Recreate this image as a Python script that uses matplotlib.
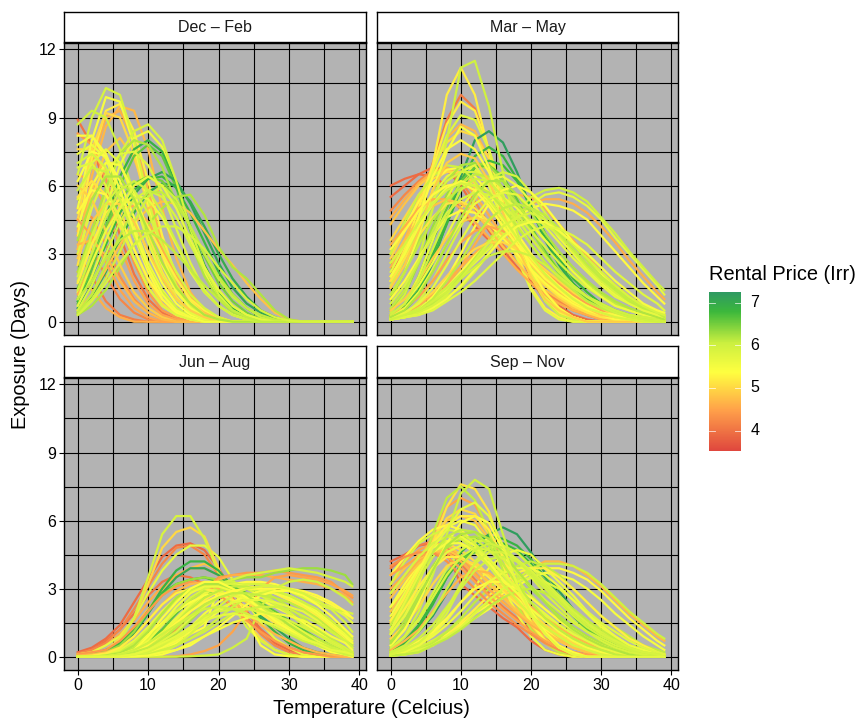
import matplotlib
matplotlib.use('Agg')
import matplotlib.pyplot as plt
from matplotlib.colors import LinearSegmentedColormap, Normalize
import numpy as np

plt.rcParams['font.family'] = ['Liberation Sans', 'DejaVu Sans']

# temperatures the curves were read at, a curve that stops early is zero after that
temps = list(range(0, 39, 2)) + [39]

dec_feb_prices = [4.0, 4.4, 4.3, 4.2, 4.5, 4.1, 4.6, 4.7, 4.8, 4.6, 5.0, 5.2, 5.0, 5.1, 5.3, 5.6, 5.5, 5.9, 6.0,
                  5.6, 6.9, 6.6, 7.1, 6.8, 7.0, 4.8, 4.6, 5.9, 6.2, 6.5, 5.8, 5.4, 6.2, 5.7, 5.5, 5.9, 6.0,
                  4.5, 4.9, 4.7, 5.1, 5.3, 4.9, 5.2, 5.6, 5.9, 6.1, 5.8, 6.0, 5.9, 5.5, 6.2, 6.0, 5.7, 6.1, 5.9, 6.0]
dec_feb_curves = [
    [8.9, 7.8, 5.9, 3.8, 2.1, 1.0, .4, .1],
    [8.3, 7.8, 6.3, 4.4, 2.6, 1.3, .5, .2],
    [5.0, 4.6, 3.4, 2.0, 1.0, .4, .1],
    [3.8, 3.2, 2.0, 1.0, .4, .1],
    [6.5, 6.2, 5.0, 3.3, 1.8, .8, .3, .1],
    [3.0, 2.0, .9, .3, .1],
    [2.2, 1.4, .6, .2],
    [3.2, 6.4, 8.6, 9.5, 9.3, 7.6, 5.0, 2.8, 1.3, .5, .1],
    [3.2, 5.8, 7.5, 8.1, 7.2, 5.5, 3.6, 2.0, 1.0, .4, .1],
    [4.0, 7.0, 9.0, 9.3, 8.0, 5.8, 3.4, 1.7, .7, .2],
    [7.6, 7.6, 6.6, 5.0, 3.2, 1.8, .8, .3, .1],
    [3.8, 7.2, 9.3, 9.6, 8.4, 6.2, 3.8, 2.0, .9, .3],
    [4.5, 7.6, 9.2, 9.0, 7.4, 5.0, 2.9, 1.4, .6, .2],
    [2.5, 5.5, 7.0, 7.0, 5.6, 3.8, 2.2, 1.1, .4, .1],
    [8.2, 8.2, 7.2, 5.6, 3.8, 2.2, 1.0, .4, .1],
    [7.4, 7.8, 7.2, 5.8, 4.2, 2.6, 1.4, .6, .2, .1],
    [5.0, 8.0, 9.9, 9.7, 7.8, 5.2, 3.0, 1.4, .6, .2],
    [6.5, 9.0, 10.3, 10.0, 8.0, 5.4, 3.2, 1.6, .7, .2],
    [8.7, 9.3, 9.0, 7.6, 5.6, 3.6, 2.0, 1.0, .4, .1],
    [1.3, 3.0, 5.0, 6.9, 8.1, 8.4, 7.7, 6.0, 4.0, 2.2, 1.1, .5, .2],
    [1.0, 2.6, 4.6, 6.4, 7.6, 8.0, 7.5, 6.0, 4.2, 2.5, 1.3, .6, .2],
    [.8, 2.3, 4.2, 6.0, 7.3, 7.8, 7.3, 5.9, 4.0, 2.4, 1.2, .5, .2],
    [.6, 1.6, 3.0, 4.4, 5.6, 6.3, 6.6, 6.2, 5.2, 3.9, 2.6, 1.5, .8, .4, .1],
    [.9, 2.0, 3.4, 4.8, 5.8, 6.3, 6.4, 5.9, 4.8, 3.5, 2.2, 1.2, .6, .2, .1],
    [.4, 1.1, 2.2, 3.6, 4.8, 5.7, 6.1, 6.0, 5.3, 4.2, 3.0, 1.9, 1.1, .5, .2],
    [.5, 1.2, 2.3, 3.4, 4.3, 5.0, 5.3, 5.2, 4.8, 4.0, 3.2, 2.5, 1.7, 1.0, .4, .1],
    [1.2, 2.6, 4.2, 5.0, 5.1, 4.4, 3.2, 2.0, 1.1, .5, .2],
    [1.8, 3.6, 5.6, 7.4, 8.4, 8.7, 8.0, 6.2, 4.1, 2.4, 1.2, .5, .2],
    [2.2, 4.0, 5.9, 7.4, 8.0, 7.8, 6.8, 5.2, 3.5, 2.0, 1.0, .4, .1],
    [1.5, 2.8, 4.2, 5.4, 6.1, 6.4, 6.2, 5.4, 4.2, 2.9, 1.7, .9, .4, .1],
    [3.0, 5.0, 6.5, 7.4, 7.5, 6.9, 5.7, 4.1, 2.6, 1.4, .7, .3, .1],
    [6.2, 7.5, 7.3, 6.2, 4.6, 3.0, 1.7, .8, .3, .1],
    [.3, .7, 1.4, 2.4, 3.4, 4.3, 5.0, 5.5, 5.6, 4.7, 3.3, 2.4, 1.9, 1.2, .5, .1],
    [5.4, 7.0, 7.6, 7.0, 5.4, 3.5, 2.0, 1.0, .4, .1],
    [4.2, 6.0, 7.0, 6.9, 5.7, 4.0, 2.5, 1.3, .6, .2],
    [7.0, 7.4, 6.8, 5.4, 3.8, 2.4, 1.3, .6, .2],
    [.4, 1.0, 1.9, 3.1, 4.4, 5.5, 6.0, 5.4, 4.2, 3.0, 1.9, 1.1, .6, .2, .05],
    [4.5, 3.8, 2.6, 1.4, .6, .2],
    [6.0, 5.4, 4.0, 2.5, 1.3, .6, .2],
    [3.4, 3.6, 2.9, 1.8, .9, .4, .1],
    [5.5, 6.2, 5.6, 4.2, 2.8, 1.5, .7, .3, .1],
    [4.8, 5.8, 5.6, 4.6, 3.2, 1.9, 1.0, .4, .1],
    [2.8, 4.4, 5.2, 5.2, 4.4, 3.1, 1.9, 1.0, .5, .2],
    [1.7, 3.4, 4.8, 5.4, 5.2, 4.2, 3.0, 1.9, 1.0, .5, .2],
    [1.0, 2.6, 4.0, 5.0, 5.6, 5.4, 4.6, 3.4, 2.2, 1.3, .7, .3, .1],
    [.5, 1.6, 3.0, 4.4, 5.4, 5.8, 5.5, 4.6, 3.4, 2.3, 1.4, .7, .3, .1],
    [.4, 1.2, 2.5, 3.8, 5.0, 5.7, 5.7, 5.2, 4.2, 3.0, 2.0, 1.2, .6, .3, .1],
    [6.8, 7.0, 6.0, 4.4, 2.8, 1.5, .7, .3, .1],
    [5.8, 6.8, 6.6, 5.4, 3.8, 2.4, 1.3, .6, .2],
    [2.0, 3.8, 5.2, 6.0, 5.8, 4.8, 3.4, 2.2, 1.2, .6, .2],
    [7.8, 8.2, 7.4, 5.8, 4.0, 2.4, 1.2, .5, .2],
    [3.6, 5.4, 6.4, 6.4, 5.4, 4.0, 2.6, 1.5, .8, .3, .1],
    [1.4, 3.0, 4.6, 5.8, 6.2, 5.8, 4.8, 3.5, 2.3, 1.3, .7, .3, .1],
    [.7, 2.0, 3.6, 5.0, 6.0, 6.4, 6.0, 5.0, 3.6, 2.4, 1.4, .7, .3, .1],
    [1.0, 1.8, 2.8, 3.6, 4.0, 4.0, 3.6, 3.0, 2.3, 1.6, 1.0, .5, .2],
    [.3, .9, 1.7, 2.6, 3.4, 3.9, 4.2, 4.2, 3.8, 3.2, 2.4, 1.7, 1.0, .5, .2, .05],
]

mar_may_prices = [3.9, 3.9, 4.2, 4.6, 4.8, 4.1, 4.7, 5.0, 5.0, 5.3, 5.2, 5.2, 4.6, 4.6, 5.3, 5.7, 5.8,
                  7.2, 6.9, 6.8, 5.7, 6.0, 6.2, 6.6, 6.3, 6.0, 5.7, 5.9, 6.1, 5.6, 5.9, 5.4, 6.1, 6.0,
                  4.6, 4.8, 5.1, 5.3, 4.9, 4.5, 5.0, 5.3, 5.5, 4.9, 5.9, 5.6, 5.9, 6.1, 5.5, 5.3, 6.0, 6.2,
                  5.7, 6.1, 5.9, 5.5, 5.8, 5.9, 6.0]
mar_may_curves = [
    [6.0, 6.3, 6.5, 6.4, 6.0, 4.9, 4.2, 3.6, 3.0, 2.4, 1.8, 1.3, .9, .6, .3, .1],
    [5.5, 6.0, 6.5, 6.8, 6.7, 6.0, 5.0, 4.0, 3.2, 2.4, 1.7, 1.1, .7, .3, .1],
    [4.9, 5.6, 6.2, 6.7, 6.7, 6.2, 5.3, 4.3, 3.4, 2.6, 1.9, 1.3, .9, .5, .3, .1],
    [4.6, 5.4, 6.1, 6.6, 6.8, 6.4, 5.6, 4.7, 3.8, 2.9, 2.2, 1.6, 1.1, .7, .4, .2, .1],
    [4.3, 5.2, 6.0, 6.5, 6.7, 6.5, 5.9, 5.1, 4.2, 3.3, 2.5, 1.8, 1.3, .8, .5, .3, .1],
    [2.0, 3.2, 5.0, 7.0, 8.9, 10.0, 9.4, 7.6, 5.3, 3.3, 1.9, .9, .4, .1],
    [2.4, 3.6, 5.2, 6.9, 8.1, 8.7, 8.4, 7.2, 5.4, 3.6, 2.1, 1.1, .5, .2],
    [3.6, 4.6, 5.6, 6.3, 6.6, 6.6, 6.1, 5.3, 4.4, 3.5, 2.7, 2.0, 1.4, .9, .6, .3, .2, .1],
    [2.8, 4.0, 5.4, 6.8, 7.9, 8.4, 8.2, 7.2, 5.6, 3.9, 2.4, 1.3, .6, .2],
    [3.0, 4.2, 5.3, 6.1, 6.7, 6.8, 6.4, 5.7, 4.8, 3.9, 3.0, 2.2, 1.6, 1.1, .7, .4, .2, .1],
    [1.5, 2.8, 4.6, 6.8, 8.7, 9.7, 9.3, 7.6, 5.5, 3.5, 2.0, 1.0, .4, .1],
    [1.8, 3.2, 5.0, 6.9, 10.0, 11.2, 10.0, 7.5, 5.0, 3.0, 1.5, .6, .2],
    [.1, .3, .7, 1.2, 1.8, 2.4, 3.0, 3.6, 4.2, 4.7, 5.2, 5.4, 5.4, 5.2, 4.8, 4.2, 3.5, 2.7, 2.0, 1.3, 1.0],
    [.1, .3, .6, 1.0, 1.6, 2.4, 3.4, 4.4, 5.2, 5.6, 5.5, 5.0, 4.3, 3.6, 2.9, 2.2, 1.6, 1.1, .7, .5, .3],
    [.1, .2, .6, 1.0, 1.5, 2.2, 2.9, 3.5, 4.0, 4.6, 5.0, 5.2, 5.1, 4.9, 4.5, 3.8, 3.1, 2.4, 1.7, 1.1, .8],
    [2.2, 3.4, 4.6, 5.6, 6.4, 6.8, 6.7, 6.1, 5.2, 4.3, 3.4, 2.6, 1.9, 1.3, .8, .5, .3, .1],
    [1.8, 3.0, 4.6, 6.6, 8.2, 9.1, 8.9, 7.6, 5.6, 3.8, 2.2, 1.1, .5, .2],
    [.2, .5, 1.2, 2.6, 4.4, 6.4, 8.0, 8.4, 7.9, 6.6, 5.0, 3.6, 2.5, 1.6, 1.0, .6, .3, .2, .1],
    [.3, .7, 1.6, 3.0, 4.6, 6.2, 7.3, 7.7, 7.3, 6.3, 5.0, 3.7, 2.6, 1.7, 1.1, .7, .4, .2, .1],
    [.2, .6, 1.4, 2.8, 4.3, 5.8, 6.8, 7.1, 6.9, 6.2, 5.1, 3.9, 2.8, 1.9, 1.3, .8, .5, .3, .1, .1],
    [.1, .2, .5, .9, 1.4, 2.0, 2.6, 3.2, 3.9, 4.6, 5.2, 5.6, 5.7, 5.5, 5.1, 4.5, 3.7, 3.0, 2.3, 1.6, 1.2],
    [.1, .3, .6, 1.0, 1.5, 2.1, 2.7, 3.3, 4.0, 4.8, 5.5, 5.8, 5.9, 5.7, 5.3, 4.6, 3.9, 3.1, 2.4, 1.7, 1.4],
    [1.0, 2.2, 3.6, 5.0, 6.2, 6.9, 7.0, 6.7, 5.9, 5.0, 4.0, 3.1, 2.3, 1.6, 1.1, .7, .4, .2, .1],
    [.3, .8, 2.0, 3.6, 5.0, 6.2, 6.8, 6.9, 6.4, 5.4, 4.2, 3.1, 2.2, 1.5, 1.0, .6, .4, .2, .1],
    [.5, 1.2, 2.6, 4.2, 5.6, 6.6, 7.0, 6.9, 6.2, 5.2, 4.1, 3.0, 2.1, 1.4, .9, .5, .3, .2, .1],
    [.4, 1.2, 2.8, 5.0, 8.0, 11.2, 11.5, 9.5, 6.6, 4.0, 2.0, .9, .3, .1],
    [.2, .8, 2.0, 3.6, 5.4, 6.6, 6.9, 6.0, 4.4, 2.8, 1.4, .5, .1],
    [1.6, 2.8, 4.2, 5.4, 6.2, 6.6, 6.6, 6.2, 5.5, 4.7, 4.0, 3.3, 2.6, 2.0, 1.5, 1.1, .7, .5, .3, .2, .1],
    [.6, 1.4, 2.6, 4.0, 5.2, 6.1, 6.5, 6.4, 5.9, 5.2, 4.4, 3.6, 2.9, 2.2, 1.7, 1.2, .8, .5, .3, .2, .1],
    [.3, .8, 1.6, 2.6, 3.8, 5.0, 5.8, 6.3, 6.4, 6.0, 5.3, 4.5, 3.7, 3.0, 2.3, 1.7, 1.2, .8, .5, .3, .2],
    [.1, .3, .9, 1.8, 3.0, 4.2, 5.4, 6.3, 6.6, 6.4, 5.7, 4.8, 3.9, 3.1, 2.4, 1.8, 1.3, .9, .6, .4, .3],
    [.1, .2, .5, 1.1, 1.9, 3.0, 4.2, 5.2, 5.8, 6.0, 5.7, 5.1, 4.3, 3.5, 2.7, 2.1, 1.5, 1.0, .7, .4, .3],
    [.1, .2, .4, .8, 1.3, 2.0, 2.8, 3.6, 4.4, 4.9, 5.0, 4.7, 4.1, 3.4, 2.7, 2.0, 1.5, 1.0, .7, .4, .3],
    [3.0, 4.4, 5.6, 6.4, 6.9, 6.8, 6.2, 5.2, 4.2, 3.2, 2.4, 1.7, 1.2, .8, .5, .3, .1],
    [3.4, 4.2, 5.0, 5.4, 5.4, 5.0, 4.4, 3.7, 3.0, 2.3, 1.7, 1.2, .8, .5, .3, .1],
    [2.6, 3.6, 4.5, 5.1, 5.4, 5.2, 4.8, 4.1, 3.3, 2.6, 1.9, 1.4, 1.0, .6, .4, .2, .1],
    [1.8, 2.8, 3.8, 4.6, 5.2, 5.3, 5.0, 4.4, 3.7, 2.9, 2.2, 1.6, 1.1, .7, .4, .2, .1],
    [1.0, 1.8, 2.8, 3.8, 4.6, 4.9, 4.8, 4.3, 3.7, 3.0, 2.3, 1.7, 1.2, .8, .5, .3, .1],
    [.5, 1.0, 1.8, 2.8, 3.7, 4.4, 4.6, 4.4, 3.8, 3.2, 2.5, 1.9, 1.4, .9, .6, .3, .2, .1],
    [.3, .6, 1.1, 1.8, 2.7, 3.5, 4.0, 4.2, 4.0, 3.5, 2.9, 2.3, 1.7, 1.2, .8, .5, .3, .1],
    [.2, .4, .8, 1.3, 2.0, 2.7, 3.2, 3.5, 3.5, 3.2, 2.8, 2.3, 1.8, 1.3, .9, .6, .3, .2, .1],
    [2.0, 3.0, 4.6, 6.4, 7.6, 8.0, 7.6, 6.6, 5.2, 3.7, 2.3, 1.3, .6, .2],
    [1.2, 2.2, 3.8, 5.8, 7.5, 8.6, 8.2, 6.8, 5.0, 3.4, 2.0, 1.0, .5, .2],
    [1.5, 2.5, 4.0, 5.8, 7.0, 7.4, 7.2, 6.2, 4.8, 3.3, 2.0, 1.0, .5, .2],
    [.1, .2, .4, .7, 1.1, 1.5, 2.2, 3.0, 3.8, 4.3, 4.5, 4.3, 3.8, 3.2, 2.5, 1.9, 1.3, .9, .5, .3, .2],
    [.2, .6, 1.3, 2.3, 3.4, 4.4, 5.2, 5.6, 5.5, 5.0, 4.3, 3.6, 2.9, 2.2, 1.6, 1.1, .7, .5, .3, .2, .1],
    [.8, 1.6, 2.7, 3.8, 4.8, 5.4, 5.7, 5.6, 5.2, 4.5, 3.7, 2.9, 2.2, 1.6, 1.1, .8, .5, .3, .2, .1],
    [1.2, 2.2, 3.4, 4.5, 5.4, 5.9, 6.0, 5.7, 5.0, 4.2, 3.4, 2.6, 1.9, 1.4, .9, .6, .4, .2, .1],
    [2.0, 3.0, 4.2, 5.2, 5.9, 6.2, 6.0, 5.3, 4.5, 3.6, 2.8, 2.1, 1.5, 1.0, .7, .4, .3, .1],
    [3.2, 4.0, 4.9, 5.6, 6.0, 6.1, 5.8, 5.1, 4.2, 3.4, 2.6, 1.9, 1.4, .9, .6, .4, .2, .1],
    [.3, .8, 1.8, 3.2, 4.6, 5.8, 6.3, 6.2, 5.5, 4.6, 3.7, 2.9, 2.2, 1.6, 1.1, .8, .5, .3, .2, .1],
    [.2, .5, 1.2, 2.2, 3.4, 4.6, 5.6, 6.2, 6.2, 5.6, 4.8, 3.9, 3.1, 2.4, 1.8, 1.3, .9, .6, .4, .2, .1],
    [.1, .4, .8, 1.5, 2.5, 3.6, 4.6, 5.4, 5.7, 5.6, 5.0, 4.2, 3.5, 2.8, 2.2, 1.6, 1.1, .8, .5, .3, .2],
    [.1, .2, .5, 1.0, 1.8, 2.7, 3.7, 4.5, 5.0, 5.2, 5.0, 4.5, 3.9, 3.2, 2.5, 1.9, 1.4, .9, .6, .4, .2],
    [.1, .2, .4, .7, 1.2, 1.9, 2.7, 3.5, 4.2, 4.6, 4.8, 4.5, 4.0, 3.4, 2.8, 2.2, 1.6, 1.1, .7, .4, .3],
    [.1, .2, .3, .6, 1.0, 1.6, 2.3, 3.0, 3.7, 4.2, 4.4, 4.4, 4.0, 3.5, 3.0, 2.4, 1.8, 1.3, .8, .5, .4],
    [.1, .2, .3, .5, .9, 1.3, 1.8, 2.4, 3.0, 3.6, 4.0, 4.2, 4.1, 3.8, 3.4, 2.8, 2.2, 1.7, 1.2, .8, .5],
    [2.6, 3.4, 4.4, 5.2, 5.8, 6.1, 6.0, 5.4, 4.6, 3.7, 2.9, 2.1, 1.5, 1.0, .6, .4, .2, .1],
    [.1, .3, .5, .9, 1.3, 1.9, 2.4, 2.9, 3.1, 3.1, 2.9, 2.5, 2.0, 1.5, 1.1, .7, .4, .2, .1],
]

jun_aug_prices = [3.9, 4.0, 4.2, 4.6, 4.8, 5.7, 5.0, 5.9, 6.9, 7.1, 6.8, 6.3, 4.4, 4.6, 5.3, 4.5, 5.4, 5.7,
                  5.9, 6.3, 5.9, 6.0, 5.6, 5.2, 6.2, 5.5, 6.6, 5.0, 6.1, 5.4, 6.0,
                  4.4, 4.7, 5.7, 5.2, 6.0, 5.9, 6.1, 5.8, 5.5, 6.0, 5.4, 5.6, 6.2, 5.4, 5.3, 5.9, 6.1, 5.7, 6.0,
                  5.5, 5.9, 6.0, 5.7]
jun_aug_curves = [
    [.2, .4, .8, 1.4, 2.4, 3.4, 4.4, 4.9, 5.0, 4.7, 3.9, 2.9, 2.0, 1.2, .6, .3, .1],
    [.1, .3, .7, 1.2, 1.9, 2.7, 3.3, 3.6, 3.5, 3.2, 2.7, 2.2, 1.7, 1.2, .7, .4, .2, .1],
    [.15, .3, .6, 1.2, 2.1, 3.1, 4.1, 4.8, 4.9, 4.5, 3.6, 2.6, 1.7, 1.0, .5, .2, .1],
    [.1, .2, .5, 1.0, 1.6, 2.4, 3.1, 3.6, 3.9, 3.9, 3.6, 3.0, 2.4, 1.7, 1.1, .6, .3, .1],
    [.05, .1, .3, .7, 1.3, 2.1, 2.9, 3.5, 3.9, 4.1, 3.8, 3.1, 2.4, 1.7, 1.1, .6, .3, .1],
    [.1, .2, .5, .9, 1.7, 2.8, 3.8, 4.5, 4.9, 4.9, 4.4, 3.4, 2.4, 1.5, .8, .4, .1],
    [0, .1, .3, .8, 1.7, 3.2, 4.8, 5.5, 5.7, 5.3, 3.9, 2.5, 1.5, .8, .3, .1],
    [0, .05, .2, .7, 1.7, 3.5, 5.4, 6.2, 6.2, 5.2, 3.7, 2.3, 1.3, .7, .3, .1],
    [0, .05, .2, .5, 1.1, 2.0, 3.0, 3.8, 4.2, 4.2, 3.8, 3.1, 2.4, 1.7, 1.1, .6, .3, .1],
    [0, .05, .2, .5, 1.0, 1.9, 2.8, 3.5, 3.9, 3.9, 3.6, 3.0, 2.4, 1.8, 1.3, .8, .4, .2, .1],
    [0, .1, .3, .6, 1.2, 2.0, 2.8, 3.2, 3.4, 3.5, 3.3, 3.0, 2.7, 2.3, 1.9, 1.5, 1.1, .7, .4, .2, .1],
    [0, .1, .2, .5, 1.1, 2.0, 2.7, 3.2, 3.4, 3.5, 3.4, 3.1, 2.7, 2.3, 1.9, 1.4, 1.0, .6, .3, .2, .1],
    [0, 0, 0, .05, .1, .3, .7, 1.2, 2.0, 2.9, 3.5, 3.6, 3.7, 3.7, 3.8, 3.7, 3.6, 3.5, 3.3, 2.8, 2.6],
    [0, 0, .02, .1, .2, .4, .8, 1.4, 2.1, 2.8, 3.4, 3.6, 3.6, 3.6, 3.5, 3.4, 3.3, 3.2, 3.0, 2.7, 2.4],
    [0, 0, .02, .1, .3, .6, 1.0, 1.6, 2.2, 2.7, 3.0, 3.2, 3.3, 3.3, 3.2, 3.0, 2.8, 2.6, 2.3, 1.9, 1.7],
    [0, 0, 0, 0, 0, 0, 0, .02, .1, .25, .5, 1.1, 2.0, 3.0, 3.5, 3.6, 3.5, 3.4, 3.2, 2.9, 2.7],
    [0, 0, 0, 0, .02, .1, .3, .6, 1.0, 1.3, 3.0, 3.2, 1.6, .5, .1, .02],
    [0, 0, .02, .1, .3, .6, 1.1, 1.7, 2.3, 2.8, 3.1, 3.2, 3.2, 3.2, 3.1, 2.9, 2.7, 2.4, 2.2, 1.8, 1.5],
    [0, 0, 0, .05, .2, .5, .9, 1.4, 2.0, 2.6, 3.0, 3.1, 3.2, 3.2, 3.1, 2.9, 2.6, 2.3, 2.1, 2.0, 1.9],
    [0, 0, 0, .02, .1, .3, .7, 1.3, 2.0, 2.6, 3.1, 3.4, 3.5, 3.5, 3.7, 3.8, 3.9, 3.9, 3.8, 3.6, 3.2],
    [0, 0, 0, .05, .2, .5, .9, 1.5, 2.2, 2.8, 3.2, 3.4, 3.6, 3.7, 3.8, 3.9, 3.8, 3.7, 3.5, 3.3, 3.1],
    [0, 0, .05, .2, .4, .9, 1.5, 2.2, 2.8, 3.2, 3.3, 3.3, 3.1, 2.8, 2.4, 2.0, 1.5, 1.1, .7, .3, .2],
    [0, 0, .02, .1, .3, .6, 1.1, 1.7, 2.3, 2.8, 3.1, 3.2, 3.1, 3.0, 2.8, 2.5, 2.2, 1.8, 1.3, .7, .4],
    [0, 0, .02, .1, .2, .4, .8, 1.4, 2.0, 2.5, 2.9, 3.1, 3.1, 3.0, 2.8, 2.5, 2.2, 1.8, 1.3, .8, .5],
    [0, 0, 0, .05, .1, .3, .6, 1.0, 1.6, 2.2, 2.6, 2.9, 3.0, 3.0, 2.9, 2.7, 2.4, 2.0, 1.5, .9, .6],
    [0, 0, 0, 0, .05, .2, .4, .8, 1.3, 1.9, 2.4, 2.8, 3.0, 3.0, 2.9, 2.7, 2.4, 2.0, 1.5, 1.0, .7],
    [0, 0, .02, .1, .3, .7, 1.2, 1.9, 2.5, 3.0, 3.2, 3.1, 2.8, 2.4, 2.0, 1.6, 1.2, .8, .5, .2, .1],
    [0, .02, .1, .3, .7, 1.3, 2.0, 2.6, 3.0, 3.2, 3.1, 2.8, 2.4, 2.0, 1.6, 1.2, .8, .5, .3, .1, .1],
    [0, 0, .05, .15, .4, .8, 1.4, 2.0, 2.5, 2.9, 3.0, 2.9, 2.6, 2.3, 1.9, 1.5, 1.1, .8, .5, .2, .1],
    [0, 0, .05, .2, .5, 1.0, 1.5, 2.0, 2.4, 2.7, 2.8, 2.8, 2.7, 2.5, 2.2, 1.9, 1.5, 1.1, .7, .3, .2],
    [0, 0, 0, 0, 0, 0, 0, 0, .02, .05, .1, .4, .8, 2.2, 3.0, 3.3, 3.4, 3.3, 3.0, 2.6, 2.3],
    [.1, .2, .3, .7, 1.3, 2.0, 2.7, 3.1, 3.3, 3.2, 2.8, 2.2, 1.6, 1.1, .7, .4, .2, .1],
    [.05, .1, .2, .4, .9, 1.6, 2.3, 2.9, 3.2, 3.3, 3.0, 2.5, 1.9, 1.4, 1.0, .7, .4, .2, .1],
    [0, .02, .1, .3, .7, 1.3, 2.0, 2.6, 2.9, 3.0, 2.9, 2.7, 2.5, 2.2, 1.9, 1.5, 1.1, .7, .4, .2, .1],
    [0, .05, .15, .4, .9, 1.6, 2.3, 2.8, 3.0, 3.0, 2.8, 2.5, 2.2, 1.9, 1.5, 1.2, .8, .5, .3, .1, .05],
    [0, 0, .05, .2, .6, 1.2, 1.9, 2.5, 2.9, 3.1, 3.1, 2.9, 2.6, 2.2, 1.8, 1.4, 1.0, .6, .4, .2, .1],
    [0, 0, .02, .1, .3, .8, 1.4, 2.0, 2.6, 3.0, 3.2, 3.2, 3.0, 2.7, 2.3, 1.9, 1.4, 1.0, .6, .3, .1],
    [0, 0, .02, .05, .2, .5, 1.0, 1.5, 2.1, 2.6, 2.9, 3.1, 3.1, 2.9, 2.6, 2.2, 1.7, 1.2, .8, .4, .2],
    [0, 0, 0, .02, .1, .3, .7, 1.1, 1.7, 2.2, 2.6, 2.9, 3.0, 3.0, 2.9, 2.7, 2.3, 1.9, 1.4, .9, .6],
    [0, 0, 0, .02, .05, .2, .4, .7, 1.1, 1.5, 2.0, 2.4, 2.7, 2.9, 2.8, 2.6, 2.3, 1.9, 1.4, .9, .6],
    [0, 0, 0, 0, .02, .1, .2, .5, .8, 1.2, 1.7, 2.2, 2.6, 2.8, 2.9, 2.7, 2.4, 2.1, 1.6, 1.1, .8],
    [0, 0, 0, 0, .02, .05, .1, .3, .5, .9, 1.3, 1.8, 2.3, 2.7, 2.9, 2.9, 2.7, 2.3, 1.8, 1.2, .9],
    [0, .02, .05, .1, .3, .7, 1.4, 2.2, 2.8, 3.1, 3.1, 2.9, 2.5, 2.1, 1.7, 1.3, .9, .6, .3, .1, .05],
    [0, 0, .05, .15, .5, 1.1, 1.9, 2.6, 3.0, 3.2, 3.2, 3.0, 2.7, 2.3, 1.9, 1.4, 1.0, .6, .3, .1, .05],
    [0, 0, .02, .1, .3, .9, 1.7, 2.4, 3.0, 3.3, 3.3, 3.0, 2.6, 2.1, 1.6, 1.2, .8, .5, .2, .1],
    [0, 0, 0, .05, .2, .5, 1.0, 1.5, 2.0, 2.4, 2.7, 2.9, 3.0, 3.0, 3.0, 3.0, 2.9, 2.7, 2.4, 2.0, 1.7],
    [0, 0, 0, 0, 0, .05, .2, .5, 1.0, 1.6, 2.2, 2.7, 3.0, 3.1, 3.1, 3.0, 2.8, 2.5, 2.1, 1.5, 1.1],
    [0, 0, .02, .05, .2, .4, .8, 1.3, 1.8, 2.3, 2.6, 2.8, 2.8, 2.7, 2.6, 2.4, 2.1, 1.7, 1.2, .7, .5],
    [0, 0, 0, .02, .1, .3, .5, .8, 1.2, 1.7, 2.1, 2.4, 2.5, 2.5, 2.4, 2.2, 2.0, 1.6, 1.1, .7, .4],
    [0, 0, 0, 0, .05, .1, .3, .5, .8, 1.1, 1.5, 1.9, 2.1, 2.2, 2.2, 2.1, 1.8, 1.5, 1.1, .7, .4],
    [0, 0, 0, 0, .02, .05, .2, .3, .6, .9, 1.2, 1.5, 1.7, 1.9, 1.9, 1.8, 1.6, 1.3, .9, .6, .3],
    [0, 0, 0, .02, .1, .2, .5, .9, 1.3, 1.8, 2.0, 2.1, 2.1, 2.0, 1.8, 1.6, 1.3, 1.0, .7, .4, .2],
    [0, 0, .02, .1, .3, .6, 1.0, 1.4, 1.8, 2.1, 2.2, 2.1, 1.9, 1.6, 1.3, 1.0, .7, .5, .3, .1, .05],
    [0, 0, 0, .02, .1, .3, .6, .9, 1.3, 1.6, 1.8, 1.9, 1.8, 1.6, 1.4, 1.1, .8, .6, .3, .2, .1],
]

sep_nov_prices = [3.9, 4.1, 4.5, 4.8, 4.5, 4.8, 5.0, 5.0, 5.1, 5.5, 5.3, 5.3, 4.7, 5.3, 7.2, 6.9, 6.8, 6.6,
                  5.7, 6.0, 6.2, 5.9, 6.0, 5.5, 5.9, 5.6, 6.1, 5.2, 5.6, 6.0, 6.1, 5.9,
                  4.6, 4.8, 4.5, 4.3, 5.2, 5.0, 4.7, 5.3, 5.4, 5.2, 5.8, 6.1, 5.6, 6.0, 5.9, 5.7, 5.5, 5.9,
                  6.1, 6.2, 6.0, 5.9, 5.7]
sep_nov_curves = [
    [4.2, 4.5, 4.9, 5.0, 4.6, 3.2, 2.7, 2.2, 1.7, 1.3, .7, .3, .1],
    [3.9, 4.4, 4.9, 5.1, 4.8, 4.1, 3.4, 2.8, 2.2, 1.7, 1.2, .8, .5, .2, .1],
    [3.6, 4.2, 4.7, 5.0, 4.9, 4.4, 3.7, 3.0, 2.4, 1.9, 1.4, 1.0, .7, .4, .2, .1],
    [3.2, 3.9, 4.5, 4.9, 4.9, 4.5, 3.9, 3.3, 2.7, 2.1, 1.6, 1.2, .8, .5, .3, .1],
    [1.5, 2.6, 4.0, 5.4, 6.6, 7.0, 6.7, 5.6, 4.0, 2.5, 1.3, .6, .2],
    [2.0, 3.0, 4.2, 5.3, 6.0, 6.2, 6.0, 5.2, 4.0, 2.7, 1.6, .8, .3, .1],
    [2.8, 3.6, 4.4, 4.9, 5.0, 4.7, 4.2, 3.6, 3.0, 2.4, 1.9, 1.4, 1.0, .6, .4, .2, .1],
    [1.5, 2.6, 3.8, 5.1, 6.1, 6.5, 6.3, 5.4, 4.0, 2.6, 1.4, .7, .3, .1],
    [1.0, 1.8, 3.2, 5.0, 6.6, 7.6, 7.4, 6.4, 4.6, 2.8, 1.5, .7, .3, .1],
    [1.8, 2.8, 4.0, 5.0, 5.7, 6.0, 5.8, 5.0, 3.9, 2.6, 1.5, .7, .3, .1],
    [2.2, 3.2, 4.1, 4.8, 5.1, 5.0, 4.6, 4.0, 3.3, 2.7, 2.1, 1.6, 1.2, .8, .5, .3, .1],
    [3.6, 4.4, 5.1, 5.6, 5.8, 5.6, 5.0, 4.2, 3.4, 2.6, 1.8, 1.2, .7, .4, .2, .1],
    [.05, .15, .4, .7, 1.0, 1.4, 1.9, 2.4, 2.9, 3.4, 3.9, 4.2, 4.2, 4.0, 3.6, 3.1, 2.5, 1.9, 1.4, .9, .7],
    [.05, .2, .4, .7, 1.0, 1.4, 1.9, 2.3, 2.8, 3.3, 3.7, 3.9, 3.9, 3.7, 3.4, 2.9, 2.3, 1.7, 1.2, .7, .5],
    [.3, .6, 1.1, 1.8, 2.8, 4.1, 4.9, 5.4, 5.7, 5.4, 4.6, 3.7, 2.9, 2.1, 1.4, .9, .5, .3, .1],
    [.2, .6, 1.3, 2.3, 3.5, 4.6, 5.2, 5.3, 5.2, 4.9, 4.3, 3.5, 2.7, 1.9, 1.3, .8, .4, .2, .1],
    [.3, .7, 1.4, 2.4, 3.5, 4.3, 4.8, 5.0, 5.0, 4.7, 4.1, 3.3, 2.5, 1.8, 1.2, .7, .4, .2, .1],
    [.4, .9, 1.7, 2.7, 3.7, 4.3, 4.6, 4.7, 4.6, 4.3, 3.8, 3.2, 2.5, 1.8, 1.2, .8, .4, .2, .1],
    [1.6, 2.7, 3.8, 4.6, 5.1, 5.2, 4.9, 4.3, 3.6, 3.0, 2.4, 1.8, 1.3, .9, .6, .4, .2, .1],
    [1.1, 2.2, 3.4, 4.4, 5.0, 5.3, 5.2, 4.7, 4.1, 3.4, 2.7, 2.1, 1.6, 1.1, .8, .5, .3, .1],
    [.7, 1.6, 2.8, 4.0, 4.8, 5.2, 5.3, 5.0, 4.4, 3.7, 3.0, 2.4, 1.8, 1.3, .9, .6, .4, .2, .1],
    [.3, .9, 1.7, 2.8, 3.9, 4.7, 5.1, 5.1, 4.7, 4.2, 3.5, 2.8, 2.2, 1.6, 1.1, .8, .5, .3, .1],
    [.05, .2, .4, .7, 1.1, 1.6, 2.0, 2.4, 2.9, 3.4, 3.9, 4.1, 4.1, 4.0, 3.7, 3.2, 2.6, 2.0, 1.5, 1.0, .8],
    [.05, .1, .3, .5, .9, 1.3, 1.7, 2.1, 2.6, 3.1, 3.5, 3.7, 3.6, 3.4, 3.0, 2.5, 1.9, 1.4, .9, .5, .3],
    [.1, .3, .6, 1.1, 1.9, 3.1, 4.2, 4.8, 4.9, 4.6, 4.0, 3.3, 2.7, 2.1, 1.6, 1.1, .8, .5, .3, .1, .1],
    [.05, .2, .5, 1.0, 1.6, 2.4, 3.1, 3.9, 4.5, 4.7, 4.5, 3.9, 3.3, 2.7, 2.0, 1.4, .9, .5, .3, .1, .1],
    [.05, .1, .3, .6, 1.1, 1.7, 2.4, 3.0, 3.6, 4.0, 4.2, 4.0, 3.6, 3.0, 2.4, 1.8, 1.3, .9, .5, .3, .2],
    [.05, .1, .2, .5, .9, 1.5, 2.1, 2.7, 3.2, 3.7, 3.9, 3.9, 3.5, 3.0, 2.4, 1.8, 1.3, .8, .5, .2, .1],
    [.5, 1.2, 2.4, 3.8, 5.0, 5.3, 4.9, 4.1, 3.1, 1.9, .9, .3, .1],
    [.3, .9, 2.0, 3.6, 5.4, 7.2, 7.8, 7.4, 5.4, 3.6, 2.1, 1.0, .4, .1],
    [1.0, 2.0, 3.6, 5.4, 7.0, 7.5, 6.9, 5.5, 3.8, 2.3, 1.2, .6, .2, .1],
    [3.2, 4.2, 5.0, 5.4, 5.6, 5.5, 5.0, 4.3, 3.6, 2.8, 2.0, 1.4, .9, .5, .3, .1],
    [3.0, 3.6, 4.2, 4.6, 4.6, 4.2, 3.6, 3.0, 2.4, 1.9, 1.4, 1.0, .7, .4, .2, .1],
    [2.6, 3.4, 4.1, 4.6, 4.7, 4.4, 3.9, 3.2, 2.6, 2.0, 1.5, 1.1, .7, .4, .2, .1],
    [3.6, 4.0, 4.4, 4.6, 4.4, 3.9, 3.3, 2.7, 2.1, 1.6, 1.1, .7, .4, .2, .1],
    [4.0, 4.4, 4.6, 4.6, 4.2, 3.6, 3.0, 2.4, 1.9, 1.4, 1.0, .6, .3, .1],
    [1.2, 2.1, 3.1, 3.9, 4.4, 4.4, 4.0, 3.5, 2.9, 2.3, 1.8, 1.3, .9, .6, .3, .2],
    [.8, 1.4, 2.2, 3.2, 4.0, 4.3, 4.1, 3.6, 3.0, 2.4, 1.9, 1.4, 1.0, .6, .4, .2, .1],
    [.3, .7, 1.2, 2.0, 2.8, 3.5, 3.8, 3.7, 3.2, 2.7, 2.2, 1.7, 1.3, .9, .6, .3, .2, .1],
    [.2, .4, .7, 1.1, 1.7, 2.4, 3.0, 3.3, 3.3, 3.0, 2.6, 2.1, 1.6, 1.2, .8, .5, .3, .1],
    [.5, 1.2, 2.4, 3.8, 5.0, 5.9, 6.2, 5.9, 4.7, 3.2, 2.0, 1.1, .5, .2],
    [1.6, 2.6, 3.8, 5.0, 5.8, 6.2, 6.2, 5.6, 4.4, 3.0, 1.8, 1.0, .4, .1],
    [.05, .1, .3, .5, .9, 1.3, 1.9, 2.5, 3.0, 3.3, 3.5, 3.3, 3.0, 2.5, 2.0, 1.5, 1.1, .7, .4, .2, .1],
    [.05, .1, .2, .5, .8, 1.2, 1.7, 2.2, 2.6, 2.9, 3.0, 2.8, 2.5, 2.1, 1.6, 1.2, .8, .5, .3, .1, .05],
    [.1, .3, .5, .9, 1.4, 2.0, 2.7, 3.3, 3.7, 3.9, 3.9, 3.6, 3.1, 2.5, 1.9, 1.3, .9, .5, .3, .1, .05],
    [.2, .4, .8, 1.4, 2.2, 3.0, 3.8, 4.3, 4.4, 4.2, 3.7, 3.1, 2.5, 1.9, 1.4, 1.0, .7, .4, .2, .1],
    [.4, .9, 1.6, 2.6, 3.6, 4.4, 4.8, 4.7, 4.3, 3.7, 3.1, 2.5, 2.0, 1.5, 1.1, .7, .4, .2, .1],
    [1.0, 1.8, 2.9, 3.9, 4.6, 4.9, 4.8, 4.3, 3.7, 3.0, 2.4, 1.9, 1.4, 1.0, .7, .4, .2, .1],
    [2.2, 3.0, 3.9, 4.6, 5.0, 5.0, 4.7, 4.1, 3.4, 2.8, 2.1, 1.6, 1.1, .7, .4, .2, .1],
    [2.8, 3.6, 4.4, 5.0, 5.3, 5.2, 4.7, 4.0, 3.2, 2.5, 1.8, 1.3, .9, .5, .3, .1],
    [1.4, 2.4, 3.6, 4.6, 5.3, 5.6, 5.5, 4.9, 4.1, 3.2, 2.4, 1.7, 1.2, .8, .5, .3, .1],
    [.6, 1.4, 2.6, 3.8, 4.9, 5.4, 5.5, 5.2, 4.6, 3.8, 3.1, 2.4, 1.7, 1.2, .8, .5, .3, .1],
    [.2, .5, 1.1, 1.9, 3.0, 4.0, 4.7, 5.0, 4.8, 4.3, 3.6, 3.0, 2.4, 1.8, 1.3, .9, .6, .3, .2, .1],
    [.1, .3, .6, 1.2, 2.1, 3.2, 4.1, 4.6, 4.6, 4.3, 3.8, 3.2, 2.6, 2.0, 1.5, 1.0, .7, .4, .2, .1],
    [1.2, 2.4, 3.6, 4.8, 5.6, 6.5, 6.8, 6.2, 4.9, 3.2, 1.9, 1.0, .4, .1],
]

season_names = ['Dec \u2013 Feb', 'Mar \u2013 May', 'Jun \u2013 Aug', 'Sep \u2013 Nov']
season_prices = [dec_feb_prices, mar_may_prices, jun_aug_prices, sep_nov_prices]
season_curves = [dec_feb_curves, mar_may_curves, jun_aug_curves, sep_nov_curves]

x_ticks = [0, 10, 20, 30, 40]
y_ticks = [0, 3, 6, 9, 12]
price_ticks = [4, 5, 6, 7]

price_cmap = LinearSegmentedColormap.from_list(
    'rental', [(0, '#E0483E'), (0.25, '#FF9F4A'), (0.495, '#FFFF40'), (0.68, '#CCF040'),
               (0.88, '#3CB83C'), (1, '#2F9A62')])
price_norm = Normalize(3.52, 7.25)

W, H = 859, 719
fig = plt.figure(figsize=(W / 100, H / 100), dpi=100)


def add_px_axes(x0, y0, x1, y1):
    # pixel box measured from the top left of the picture
    return fig.add_axes([x0 / W, 1 - y1 / H, (x1 - x0) / W, (y1 - y0) / H])


panel_cols = [(64, 366), (377, 678)]
panel_rows = [(12, 43, 335), (346, 378, 670)]

for i in range(4):
    x0, x1 = panel_cols[i % 2]
    s0, y0, y1 = panel_rows[i // 2]

    ax = add_px_axes(x0, y0, x1, y1)
    ax.set_facecolor('#B3B3B3')
    ax.set_xlim(-1.95, 40.95)
    ax.set_ylim(-0.585, 12.285)
    ax.set_xticks(x_ticks)
    ax.set_yticks(y_ticks)
    ax.set_xticks([5, 15, 25, 35], minor=True)
    ax.set_yticks([1.5, 4.5, 7.5, 10.5], minor=True)
    ax.grid(which='both', color='black', lw=0.8)
    ax.set_axisbelow(True)
    ax.tick_params(which='minor', length=0)
    ax.tick_params(which='major', length=3.5, width=0.8, labelsize=11.5, colors='black', pad=2)
    ax.tick_params(axis='x', labelbottom=i >= 2, bottom=i >= 2)
    ax.tick_params(axis='y', labelleft=i % 2 == 0, left=i % 2 == 0)
    for sp in ax.spines.values():
        sp.set_linewidth(1.0)

    for price, curve in zip(season_prices[i], season_curves[i]):
        vals = curve + [0] * (len(temps) - len(curve))
        ax.plot(temps, vals, color=price_cmap(price_norm(price)), lw=1.6, solid_joinstyle='round')

    strip = add_px_axes(x0, s0, x1, y0 - 1)
    strip.set_xticks([])
    strip.set_yticks([])
    strip.text(0.5, 0.48, season_names[i], transform=strip.transAxes, ha='center', va='center',
               fontsize=11.5, color='#1A1A1A')
    for sp in strip.spines.values():
        sp.set_linewidth(1.0)

fig.text(371 / W, 1 - 708 / H, 'Temperature (Celcius)', ha='center', va='center', fontsize=14.4)
fig.text(21 / W, 1 - 355 / H, 'Exposure (Days)', ha='center', va='center', rotation=90, fontsize=14.4)

# colour legend
cax = add_px_axes(709, 292, 741, 451)
gradient = np.linspace(price_norm.vmin, price_norm.vmax, 200).reshape(-1, 1)
cax.imshow(gradient, cmap=price_cmap, norm=price_norm, aspect='auto', origin='lower',
           extent=[0, 1, price_norm.vmin, price_norm.vmax])
cax.set_xlim(0, 1)
cax.set_ylim(price_norm.vmin, price_norm.vmax)
cax.set_xticks([])
cax.set_yticks([])
for sp in cax.spines.values():
    sp.set_visible(False)
for p in price_ticks:
    cax.plot([0, 0.2], [p, p], color='white', lw=0.6, alpha=0.8)
    cax.plot([0.8, 1], [p, p], color='white', lw=0.6, alpha=0.8)
    cax.text(1.3, p, str(p), ha='left', va='center', fontsize=11.5)
fig.text(709 / W, 1 - 274 / H, 'Rental Price (Irr)', ha='left', va='center', fontsize=14.4)

fig.savefig('out.png', dpi=100)
